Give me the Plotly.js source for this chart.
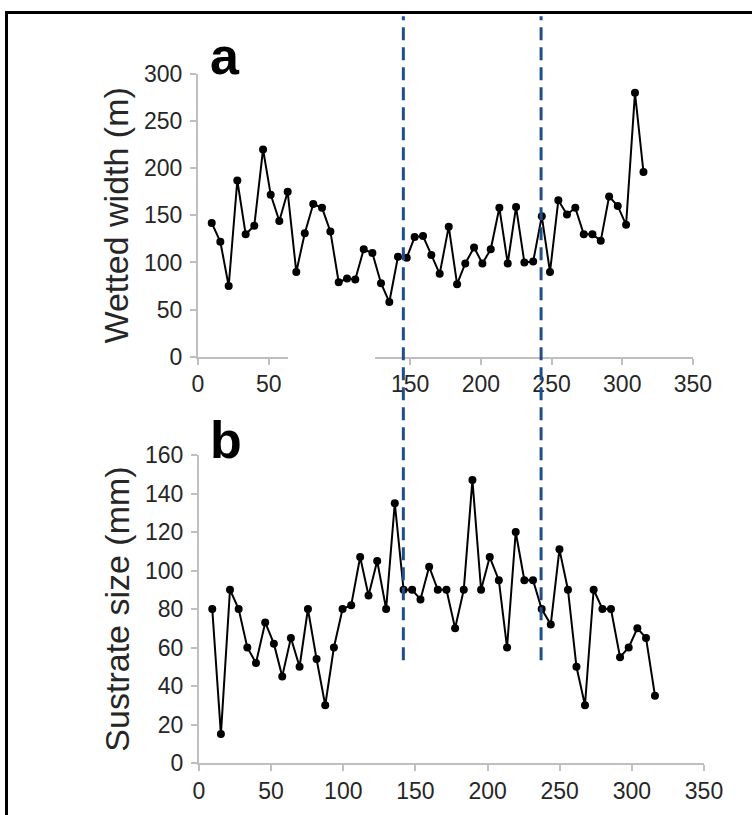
<!DOCTYPE html>
<html>
<head>
<meta charset="utf-8">
<script src="https://cdn.plot.ly/plotly-3.0.1.min.js"></script>
<style>
  html, body { margin: 0; padding: 0; background: #fff; overflow: hidden; }
  #wrap { position: relative; width: 752px; height: 815px; }
  #chart { position: absolute; left: 0; top: 0; width: 752px; height: 815px; }
  #frame { position: absolute; left: 5px; top: 11px; width: 820px; height: 900px;
           border: 3px solid #000; pointer-events: none; box-sizing: border-box; }
</style>
</head>
<body>
<div id="wrap">
  <div id="chart"></div>
  <div id="frame"></div>
</div>
<script>
// ---- Data ----
// Panel a: wetted width (m) vs distance
const widthX = [9.7,15.8,21.7,27.8,33.7,39.8,46,51.4,57.5,63.4,69.5,75.5,81.5,87.7,93.6,99.5,105.4,111.2,117.2,123.3,
  129.4,135.3,141.4,147.6,153.2,159.1,165,170.9,177.3,183.2,189,195.2,201.1,207,213.1,219,224.9,230.8,237,243.1,
  248.9,254.8,260.9,266.8,272.8,278.9,284.8,290.7,296.8,302.7,309,315];
const widthY = [142,122,75,187,130,139,220,172,144,175,90,131,162,158,133,79,83,82,114,110,
  78,58,106,105,127,128,108,88,138,77,99,116,99,114,158,99,159,100,101,149,
  90,166,151,158,130,130,123,170,160,140,280,196];

// Panel b: substrate size (mm) vs distance
const substrateX = [9.2,15.2,21.5,27.5,33.5,39.5,45.9,51.9,57.7,63.7,69.7,75.5,81.5,87.5,93.5,99.5,105.5,111.7,117.5,123.5,
  129.7,135.7,141.8,147.7,153.5,159.5,165.5,171.5,177.5,183.5,189.5,195.5,201.5,207.8,213.5,219.5,225.5,231.5,237.5,243.8,
  249.8,255.7,261.6,267.5,273.5,279.6,285.5,291.8,297.8,303.8,309.8,316];
const substrateY = [80,15,90,80,60,52,73,62,45,65,50,80,54,30,60,80,82,107,87,105,
  80,135,90,90,85,102,90,90,70,90,147,90,107,95,60,120,95,95,80,72,
  111,90,50,30,90,80,80,55,60,70,65,35];

// Reach boundaries (in panel a distance units)
const boundaries = [145.2, 242.6];

const xTicks = [0,50,100,150,200,250,300,350];
const yTicksA = [0,50,100,150,200,250,300];
const yTicksB = [0,20,40,60,80,100,120,140,160];

// ---- Styling ----
const axisGray = '#bfbfbf';
const tickFont = {family: 'Liberation Sans, Arial, sans-serif', size: 23, color: '#262626'};
const titleFont = {family: 'Liberation Sans, Arial, sans-serif', size: 34, color: '#262626'};

function baseAxis() {
  return {
    showgrid: false, zeroline: false, showline: true, linecolor: axisGray, linewidth: 2,
    ticks: 'outside', ticklen: 6, tickwidth: 2, tickcolor: axisGray,
    tickfont: tickFont, fixedrange: true
  };
}

const lineStyle = {color: '#000', width: 2};
const markerStyle = {color: '#000', size: 8, symbol: 'circle'};

const traces = [
  {x: widthX, y: widthY, xaxis: 'x', yaxis: 'y', type: 'scatter', mode: 'lines+markers',
   line: lineStyle, marker: markerStyle, hoverinfo: 'skip'},
  {x: substrateX, y: substrateY, xaxis: 'x2', yaxis: 'y2', type: 'scatter', mode: 'lines+markers',
   line: lineStyle, marker: markerStyle, hoverinfo: 'skip'}
];

const shapes = [
  // white mask hiding part of panel a's x axis (as in the original figure)
  {type: 'rect', xref: 'x', yref: 'paper', x0: 63.6, x1: 125.2, y0: 0.512, y1: 0.5705,
   fillcolor: '#fff', line: {width: 0}, layer: 'above'}
];
boundaries.forEach(b => shapes.push({
  type: 'line', xref: 'x', yref: 'paper', x0: b, x1: b, y0: 0.190, y1: 0.980,
  line: {color: '#1f4e8a', width: 3, dash: '13px,7px'}, layer: 'above'
}));

const layout = {
  width: 752, height: 815,
  margin: {l: 0, r: 0, t: 0, b: 0},
  paper_bgcolor: '#fff', plot_bgcolor: 'rgba(0,0,0,0)',
  showlegend: false,
  xaxis: Object.assign(baseAxis(), {domain: [0.2633, 0.9215], range: [0, 350],
    tickvals: xTicks, anchor: 'y'}),
  yaxis: Object.assign(baseAxis(), {domain: [0.5623, 0.9092], range: [0, 300],
    tickvals: yTicksA, anchor: 'x', ticklabelstandoff: 3,
    title: {text: 'Wetted width (m)', font: titleFont, standoff: 5}}),
  xaxis2: Object.assign(baseAxis(), {domain: [0.2646, 0.9362], range: [0, 350],
    tickvals: xTicks, anchor: 'y2'}),
  yaxis2: Object.assign(baseAxis(), {domain: [0.0638, 0.4417], range: [0, 160],
    tickvals: yTicksB, anchor: 'x2', ticklabelstandoff: 3,
    title: {text: 'Sustrate size (mm)', font: titleFont, standoff: 5}}),
  shapes: shapes,
  annotations: [
    {text: '<b>a</b>', xref: 'paper', yref: 'paper', x: 0.277, y: 0.9313, xanchor: 'left', yanchor: 'middle',
     showarrow: false, font: {family: 'Liberation Sans, Arial, sans-serif', size: 52, color: '#000'}},
    {text: '<b>b</b>', xref: 'paper', yref: 'paper', x: 0.277, y: 0.4601, xanchor: 'left', yanchor: 'middle',
     showarrow: false, font: {family: 'Liberation Sans, Arial, sans-serif', size: 52, color: '#000'}}
  ]
};

Plotly.newPlot('chart', traces, layout, {staticPlot: true, displayModeBar: false});
</script>
</body>
</html>
